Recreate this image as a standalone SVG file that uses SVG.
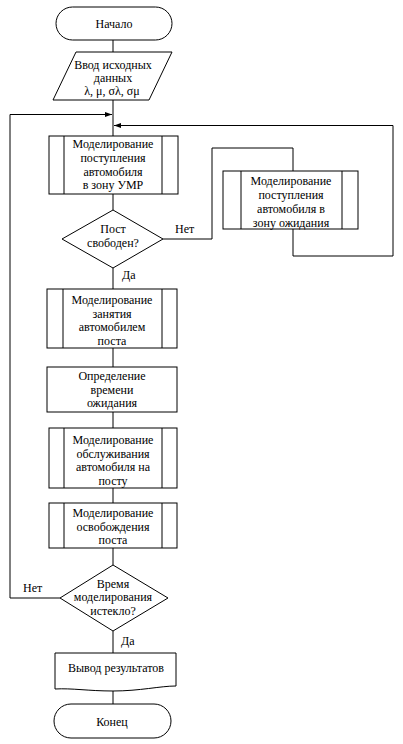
<svg xmlns="http://www.w3.org/2000/svg" width="403" height="744" viewBox="0 0 403 744">
<style>
.s{fill:#fff;stroke:#000;stroke-width:1}
.l{fill:none;stroke:#000;stroke-width:1}
text{font-size:12px;fill:#000;text-anchor:middle}
.lb{text-anchor:start}
</style>
<defs>
<marker id="a" markerWidth="8" markerHeight="6" refX="7" refY="3" orient="auto" markerUnits="userSpaceOnUse">
<path d="M0,0.5 L7,3 L0,5.5 Z" fill="#000"/>
</marker>
</defs>
<rect width="403" height="744" fill="#fff"/>
<g font-family="'Liberation Serif', 'DejaVu Serif', serif">
<g id="connectors">
<path class="l" d="M113,40 V52"/>
<path class="l" d="M113,100 V136"/>
<path class="l" d="M113,194 V210"/>
<path class="l" d="M113,268 V289"/>
<path class="l" d="M113,348 V367"/>
<path class="l" d="M113,412 V428"/>
<path class="l" d="M113,488 V503"/>
<path class="l" d="M113,548 V565"/>
<path class="l" d="M113,631 V653"/>
<path class="l" d="M113,691 V704"/>
<path class="l" d="M163,239 H212 V148 H293 V171"/>
<path class="l" d="M293,229 V256 H393 V125.5 H114" marker-end="url(#a)"/>
<path class="l" d="M60,598 H10 V114.5 H112" marker-end="url(#a)"/>
<text class="lb" x="175" y="233">Нет</text>
<text class="lb" x="122" y="279">Да</text>
<text class="lb" x="23" y="592">Нет</text>
<text class="lb" x="121" y="645">Да</text>
</g>
<g id="start">
<rect class="s" x="56" y="7" width="116" height="33" rx="16.5"/>
<text x="114" y="27.5">Начало</text>
</g>
<g id="input">
<path class="s" d="M76,52 H172 L149,100 H53 Z"/>
<text x="113" y="68.5">Ввод исходных</text>
<text x="113" y="81.5">данных</text>
<text x="112" y="94.5">λ, μ, σλ, σμ</text>
</g>
<g id="p1">
<rect class="s" x="49" y="136" width="129" height="58"/>
<path class="l" d="M64,136 V194 M162,136 V194"/>
<text x="113" y="148">Моделирование</text>
<text x="113" y="162">поступления</text>
<text x="113" y="175.5">автомобиля</text>
<text x="113" y="189">в зону УМР</text>
</g>
<g id="d1">
<path class="s" d="M113,210 L163,239 L113,268 L62,239 Z"/>
<text x="113" y="233">Пост</text>
<text x="113" y="246.5">свободен?</text>
</g>
<g id="p2">
<rect class="s" x="223" y="171" width="135" height="58"/>
<path class="l" d="M241,171 V229 M342,171 V229"/>
<text x="291" y="185">Моделирование</text>
<text x="291" y="199">поступления</text>
<text x="291" y="213">автомобиля в</text>
<text x="291" y="226.5">зону ожидания</text>
</g>
<g id="p3">
<rect class="s" x="47" y="289" width="130" height="59"/>
<path class="l" d="M63,289 V348 M162,289 V348"/>
<text x="112" y="304">Моделирование</text>
<text x="112" y="317.5">занятия</text>
<text x="112" y="331">автомобилем</text>
<text x="112" y="344.5">поста</text>
</g>
<g id="p4">
<rect class="s" x="47" y="367" width="130" height="45"/>
<text x="112" y="380">Определение</text>
<text x="112" y="393.5">времени</text>
<text x="112" y="407">ожидания</text>
</g>
<g id="p5">
<rect class="s" x="49" y="428" width="128" height="60"/>
<path class="l" d="M64,428 V488 M162,428 V488"/>
<text x="113" y="444">Моделирование</text>
<text x="113" y="457.5">обслуживания</text>
<text x="113" y="471">автомобиля на</text>
<text x="113" y="484.5">посту</text>
</g>
<g id="p6">
<rect class="s" x="49" y="503" width="128" height="45"/>
<path class="l" d="M64,503 V548 M162,503 V548"/>
<text x="113" y="517">Моделирование</text>
<text x="113" y="530.5">освобождения</text>
<text x="113" y="544">поста</text>
</g>
<g id="d2">
<path class="s" d="M113,565 L168,598 L113,631 L60,598 Z"/>
<text x="113" y="587.5">Время</text>
<text x="113" y="601">моделирования</text>
<text x="113" y="614.5">истекло?</text>
</g>
<g id="output">
<path class="s" d="M55,653 H176 V686 C160,686 140,691 113,691 C88,691 72,688 55,689 Z"/>
<text x="116" y="672">Вывод результатов</text>
</g>
<g id="end">
<rect class="s" x="54" y="704" width="117" height="34" rx="17"/>
<text x="112" y="726">Конец</text>
</g>
</g>
</svg>
